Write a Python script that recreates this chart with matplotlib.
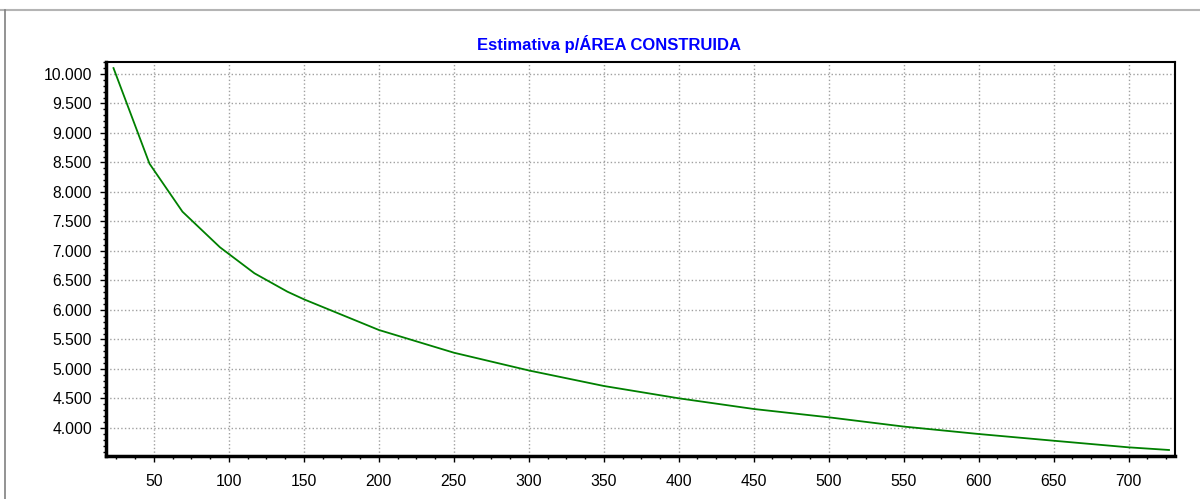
import matplotlib
matplotlib.use('Agg')
import matplotlib.pyplot as plt
from matplotlib.lines import Line2D
from matplotlib.ticker import MultipleLocator, FuncFormatter

plt.rcParams['font.family'] = ['Liberation Sans', 'DejaVu Sans']

# values
area = [23, 47, 69, 94, 117, 139, 150, 200, 250, 300, 350, 400, 450, 500, 550, 600, 650, 700, 727]
estimate = [10100, 8480, 7666, 7063, 6622, 6310, 6181, 5661, 5276, 4975, 4712, 4503, 4322, 4181, 4024, 3898, 3784, 3672, 3627]

title = 'Estimativa p/ÁREA CONSTRUIDA'

fig = plt.figure(figsize=(12, 4.99), dpi=100)
ax = fig.add_axes([106 / 1200, 1 - 456 / 499, (1175 - 106) / 1200, (456 - 62) / 499])

ax.plot(area, estimate, color='#008000', linewidth=1.3)

ax.set_xlim(18, 731)
ax.set_ylim(3525, 10203)

ax.xaxis.set_major_locator(MultipleLocator(50))
ax.xaxis.set_minor_locator(MultipleLocator(12.5))
ax.yaxis.set_major_locator(MultipleLocator(500))
ax.yaxis.set_minor_locator(MultipleLocator(100))
ax.yaxis.set_major_formatter(FuncFormatter(lambda v, p: f'{v:,.0f}'.replace(',', '.')))

ax.grid(True, which='major', color='#a0a0a0', linestyle=':', linewidth=1)
ax.tick_params(axis='both', which='major', labelsize=11.3, length=4, width=1, pad=6)
ax.tick_params(axis='both', which='minor', length=2.5, width=1)
ax.tick_params(axis='x', which='major', pad=9)

for side in ['left', 'bottom']:
    ax.spines[side].set_linewidth(2.5)
for side in ['top', 'right']:
    ax.spines[side].set_linewidth(1.5)

fig.text(609 / 1200, 1 - 44 / 499, title, color='#0000ff', fontsize=12, fontweight='bold',
         ha='center', va='center')

# outer frame (top and left only visible)
fig.add_artist(Line2D([0, 1], [1 - 10 / 499, 1 - 10 / 499], color='#b4b4b4', linewidth=1.5,
                      transform=fig.transFigure))
fig.add_artist(Line2D([4.5 / 1200, 4.5 / 1200], [0, 1 - 10 / 499], color='#808080', linewidth=1.2,
                      transform=fig.transFigure))

plt.savefig('out.png', dpi=100)
